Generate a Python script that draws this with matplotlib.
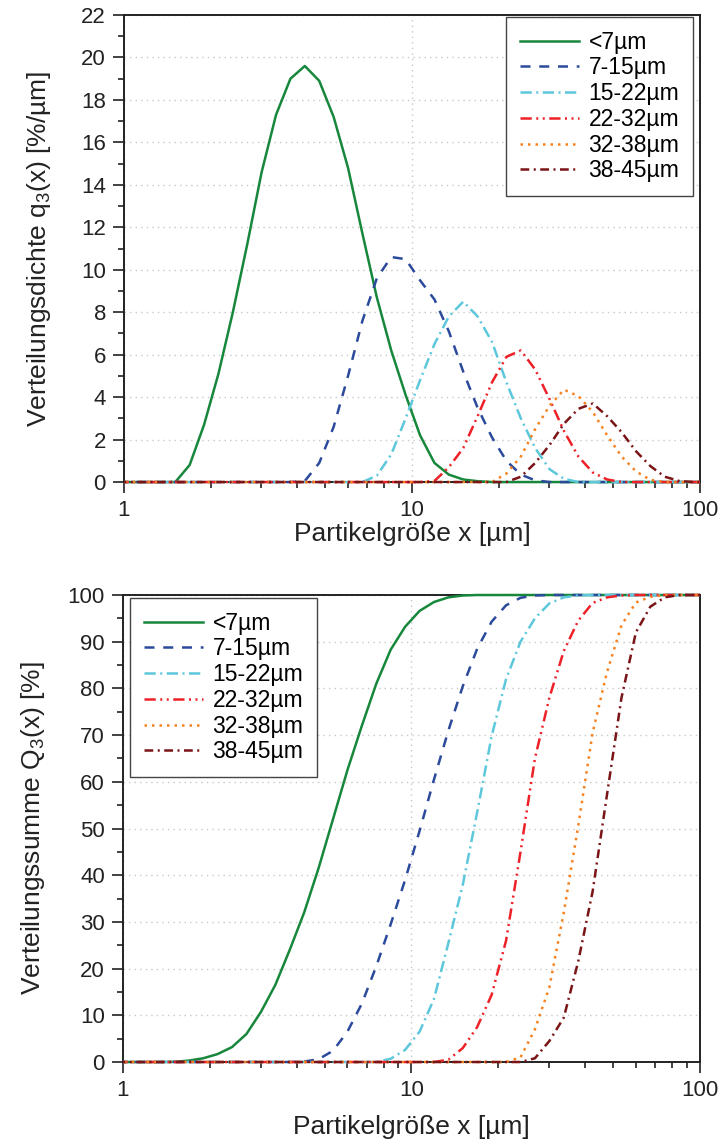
import numpy as np
import matplotlib
matplotlib.use("Agg")
import matplotlib.pyplot as plt
from matplotlib.ticker import MultipleLocator, FixedLocator, FixedFormatter, LogLocator, NullFormatter
from matplotlib.transforms import Bbox, TransformedBbox

plt.rcParams['font.family'] = ['Liberation Sans', 'DejaVu Sans']
plt.rcParams['mathtext.fontset'] = 'custom'
plt.rcParams['mathtext.rm'] = 'Liberation Sans'
plt.rcParams['mathtext.it'] = 'Liberation Sans'

# particle size classes (um), log spaced measurement grid
x = [0.950, 1.067, 1.197, 1.343, 1.507, 1.690, 1.897, 2.128, 2.388, 2.679,
     3.006, 3.373, 3.784, 4.246, 4.764, 5.346, 5.998, 6.730, 7.551, 8.472,
     9.506, 10.67, 11.97, 13.43, 15.07, 16.90, 18.97, 21.28, 23.88, 26.79,
     30.06, 33.73, 37.84, 42.46, 47.64, 53.46, 59.98, 67.30, 75.51, 84.72,
     95.06, 106.7]

labels = ["<7µm", "7-15µm", "15-22µm", "22-32µm", "32-38µm", "38-45µm"]

# density q3 [%/um]
q_lt7 = [0] * 5 + [0.8, 2.7, 5.1, 8.0, 11.2, 14.6, 17.3, 19.0, 19.6, 18.9, 17.2,
                   14.8, 11.7, 8.7, 6.2, 4.1, 2.2, 0.9, 0.35, 0.12, 0.04] + [0] * 16
q_7_15 = [0] * 13 + [0.05, 0.9, 2.6, 5.0, 7.6, 9.6, 10.6, 10.5, 9.5, 8.6, 7.1,
                     5.2, 3.5, 2.1, 1.0, 0.35, 0.08] + [0] * 12
q_15_22 = [0] * 18 + [0.3, 1.3, 3.0, 4.8, 6.5, 7.8, 8.5, 7.8, 6.6, 4.7, 3.0,
                      1.6, 0.6, 0.15] + [0] * 10
q_22_32 = [0] * 22 + [0.05, 0.7, 1.6, 3.1, 4.7, 5.9, 6.2, 5.3, 3.9, 2.4, 1.2,
                      0.45, 0.12] + [0] * 7
q_32_38 = [0] * 27 + [0.4, 1.2, 2.5, 3.6, 4.35, 4.05, 3.3, 2.2, 1.2, 0.5, 0.1] + [0] * 4
q_38_45 = [0] * 28 + [0.25, 0.9, 1.75, 2.75, 3.45, 3.7, 3.1, 2.35, 1.45, 0.75,
                      0.25, 0.05] + [0] * 2

# cumulative Q3 [%]
Q_lt7 = [0] * 4 + [0.05, 0.3, 0.8, 1.7, 3.2, 6.0, 10.7, 16.5, 24, 32, 41.5, 52,
                   62.5, 72, 81, 88.3, 93.2, 96.6, 98.5, 99.5, 99.9] + [100] * 17
Q_7_15 = [0] * 13 + [0.1, 0.6, 2.4, 6.5, 12.5, 20.5, 29.5, 39, 49.5, 60.5, 71,
                     80.5, 88.5, 94.3, 97.8, 99.4, 99.9] + [100] * 12
Q_15_22 = [0] * 19 + [0.7, 2.6, 6.5, 13.5, 25.5, 38, 53.5, 69.8, 82, 90, 95,
                      98.2, 99.5, 99.9] + [100] * 9
Q_22_32 = [0] * 23 + [0.5, 3, 7.5, 14.4, 26, 45, 65, 78, 88, 94.5, 98.3, 99.5,
                      99.9] + [100] * 6
Q_32_38 = [0] * 28 + [1, 7, 16, 32, 50.5, 70.5, 83.5, 93.5, 98.4, 99.6] + [100] * 4
Q_38_45 = [0] * 29 + [0.8, 4.5, 9.5, 21.5, 36.5, 57.3, 78, 92, 97.5, 99.5] + [100] * 3

colors = ['#17873c', '#2c4a9c', '#5dc7db', '#ee2028', '#f5821f', '#7a1416']
styles = ['-', (0, (4, 3.5)), (0, (4.5, 1.8, 0.8, 1.8)),
          (0, (4.5, 1.8, 0.8, 1.8, 0.8, 1.8)), (0, (1, 2)), (0, (3.5, 1.8, 0.8, 1.8))]

fig = plt.figure(figsize=(7.23, 11.48), dpi=100)
ax1 = fig.add_axes([0.1715, 0.5801, 0.7966, 0.4068])
ax2 = fig.add_axes([0.1701, 0.0749, 0.7980, 0.4068])


def style_axis(ax, ymax, major, minor):
    ax.set_xscale('log')
    ax.set_xlim(1, 100)
    ax.set_ylim(0, ymax)
    ax.xaxis.set_major_locator(FixedLocator([1, 10, 100]))
    ax.xaxis.set_major_formatter(FixedFormatter(['1', '10', '100']))
    ax.xaxis.set_minor_locator(LogLocator(base=10, subs=np.arange(2, 10)))
    ax.xaxis.set_minor_formatter(NullFormatter())
    ax.yaxis.set_major_locator(MultipleLocator(major))
    ax.yaxis.set_minor_locator(MultipleLocator(minor))
    ax.tick_params(which='both', direction='out', colors='#222222', labelsize=16,
                   top=False, right=False)
    ax.tick_params(which='major', length=8, width=1.2, pad=5)
    ax.tick_params(which='minor', length=4.5, width=1.2)
    ax.grid(True, which='major', color='#c8c8c8', linestyle=(0, (1, 3)), linewidth=1)
    for s in ax.spines.values():
        s.set_color('#222222')
        s.set_linewidth(1.4)
        s.set_zorder(2)


style_axis(ax1, 22, 2, 1)
style_axis(ax2, 100, 10, 5)

q_series = [q_lt7, q_7_15, q_15_22, q_22_32, q_32_38, q_38_45]
Q_series = [Q_lt7, Q_7_15, Q_15_22, Q_22_32, Q_32_38, Q_38_45]

for ax, series in [(ax1, q_series), (ax2, Q_series)]:
    clip = TransformedBbox(Bbox([[0, -0.02], [1, 1.02]]), ax.transAxes)
    for ys, c, ls, lab in zip(series, colors, styles, labels):
        line, = ax.plot(x, ys, color=c, linestyle=ls, linewidth=1.8, label=lab, zorder=3)
        line.set_clip_box(clip)

leg_kw = dict(fontsize=16.5, handlelength=2.6, handletextpad=0.4, labelspacing=0.12,
              borderpad=0.6, borderaxespad=0, fancybox=False, framealpha=1)
leg1 = ax1.legend(loc='upper right', bbox_to_anchor=(0.988, 0.996), **leg_kw)
leg2 = ax2.legend(loc='upper left', bbox_to_anchor=(0.012, 0.994), **leg_kw)
for leg in (leg1, leg2):
    leg.get_frame().set_edgecolor('#444444')
    leg.get_frame().set_linewidth(1.0)
    leg.set_zorder(5)

ax1.set_xlabel('Partikelgröße x [µm]', fontsize=19, color='#222222')
ax2.set_xlabel('Partikelgröße x [µm]', fontsize=19, color='#222222')
ax1.set_ylabel('Verteilungsdichte q$_3$(x) [%/µm]', fontsize=19, color='#222222')
ax2.set_ylabel('Verteilungssumme Q$_3$(x) [%]', fontsize=19, color='#222222')
ax1.xaxis.set_label_coords(0.5, -0.085)
ax2.xaxis.set_label_coords(0.5, -0.113)
ax1.yaxis.set_label_coords(-0.123, 0.5)
ax2.yaxis.set_label_coords(-0.132, 0.5)

fig.savefig('out.png', dpi=100)
